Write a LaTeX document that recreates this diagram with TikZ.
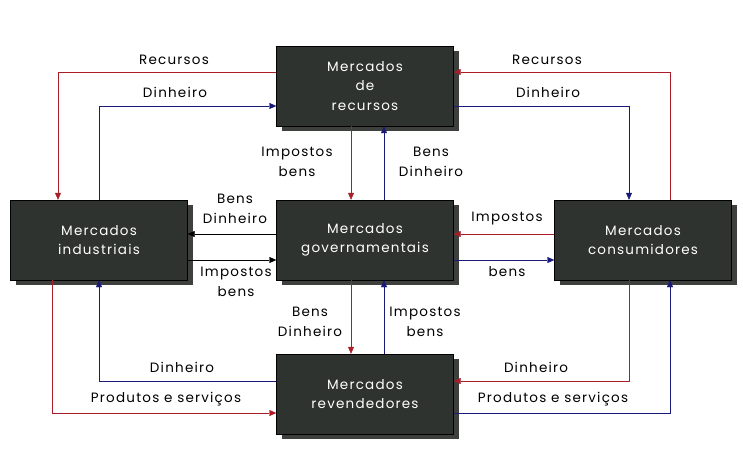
\documentclass[tikz,border=0pt]{standalone}
\usepackage{fontspec}
\setmainfont{Poppins}[LetterSpace=9]
\usetikzlibrary{arrows.meta,shadows}
\definecolor{boxgray}{RGB}{46,51,47}
\definecolor{shadegray}{RGB}{62,64,62}
\definecolor{redflow}{RGB}{170,30,40}
\definecolor{blueflow}{RGB}{25,25,120}

\begin{document}
\begin{tikzpicture}[x=1pt,y=-1pt,
	mercado/.style={draw=black,fill=boxgray,text=white,minimum width=177pt,minimum height=80pt,
		align=center,inner sep=0pt,font=\fontsize{13.5}{19.5}\selectfont,
		drop shadow={shadow xshift=5pt,shadow yshift=-5pt,fill=shadegray,opacity=1}},
	lbl/.style={align=center,inner sep=0pt,font=\fontsize{13.5}{19.5}\selectfont},
	tip/.style={-{Triangle[length=7pt,width=6pt]}},
	verm/.style={tip,draw=redflow,thin},
	azul/.style={tip,draw=blueflow,thin},
	preto/.style={tip,draw=black,thin}]
	\useasboundingbox (0,0) rectangle (743,473);
	% mercados
	\node[mercado] (rec) at (365,86) {Mercados\\de\\recursos};
	\node[mercado] (ind) at (99,240) {Mercados\\industriais};
	\node[mercado] (gov) at (365,240) {Mercados\\governamentais};
	\node[mercado] (con) at (643,240) {Mercados\\consumidores};
	\node[mercado] (rev) at (365,394) {Mercados\\revendedores};
	% fluxos de cima
	\draw[verm] ([yshift=14pt]rec.west) -| ([xshift=-41pt]ind.north);
	\draw[azul] (ind.north) |- ([yshift=-20pt]rec.west);
	\draw[verm] ([xshift=27pt]con.north) |- ([yshift=14pt]rec.east);
	\draw[azul] ([yshift=-20pt]rec.east) -| ([xshift=-14pt]con.north);
	\draw[verm] ([xshift=-14pt]rec.south) -- ([xshift=-14pt]gov.north);
	\draw[azul] ([xshift=19pt]gov.north) -- ([xshift=19pt]rec.south);
	% fluxos do meio
	\draw[preto] ([yshift=6pt]gov.west) -- ([yshift=6pt]ind.east);
	\draw[preto] ([yshift=-20pt]ind.east) -- ([yshift=-20pt]gov.west);
	\draw[verm] ([yshift=6pt]con.west) -- ([yshift=6pt]gov.east);
	\draw[azul] ([yshift=-20pt]gov.east) -- ([yshift=-20pt]con.west);
	% fluxos de baixo
	\draw[verm] ([xshift=-14pt]gov.south) -- ([xshift=-14pt]rev.north);
	\draw[azul] ([xshift=19pt]rev.north) -- ([xshift=19pt]gov.south);
	\draw[azul] ([yshift=13pt]rev.west) -| (ind.south);
	\draw[verm] ([xshift=-47pt]ind.south) |- ([yshift=-19pt]rev.west);
	\draw[verm] ([xshift=-14pt]con.south) |- ([yshift=13pt]rev.east);
	\draw[azul] ([yshift=-19pt]rev.east) -| ([xshift=27pt]con.south);
	% rotulos
	\node[lbl] (l1) at (174,60) {Recursos};
	\node[lbl] (l2) at (175,92) {Dinheiro};
	\node[lbl] (l3) at (547,60) {Recursos};
	\node[lbl] (l4) at (548,92) {Dinheiro};
	\node[lbl] (l5) at (297,162) {Impostos\\bens};
	\node[lbl] (l6) at (431,162) {Bens\\Dinheiro};
	\node[lbl] (l7) at (235,209) {Bens\\Dinheiro};
	\node[lbl] (l8) at (236,282) {Impostos\\bens};
	\node[lbl] (l9) at (507,219) {Impostos};
	\node[lbl] (l10) at (507,272) {bens};
	\node[lbl] (l11) at (310,322) {Bens\\Dinheiro};
	\node[lbl] (l12) at (425,322) {Impostos\\bens};
	\node[lbl] (l13) at (182,367) {Dinheiro};
	\node[lbl] (l14) at (166,399) {Produtos e serviços};
	\node[lbl] (l15) at (536,367) {Dinheiro};
	\node[lbl] (l16) at (553,399) {Produtos e serviços};
\end{tikzpicture}
\end{document}
